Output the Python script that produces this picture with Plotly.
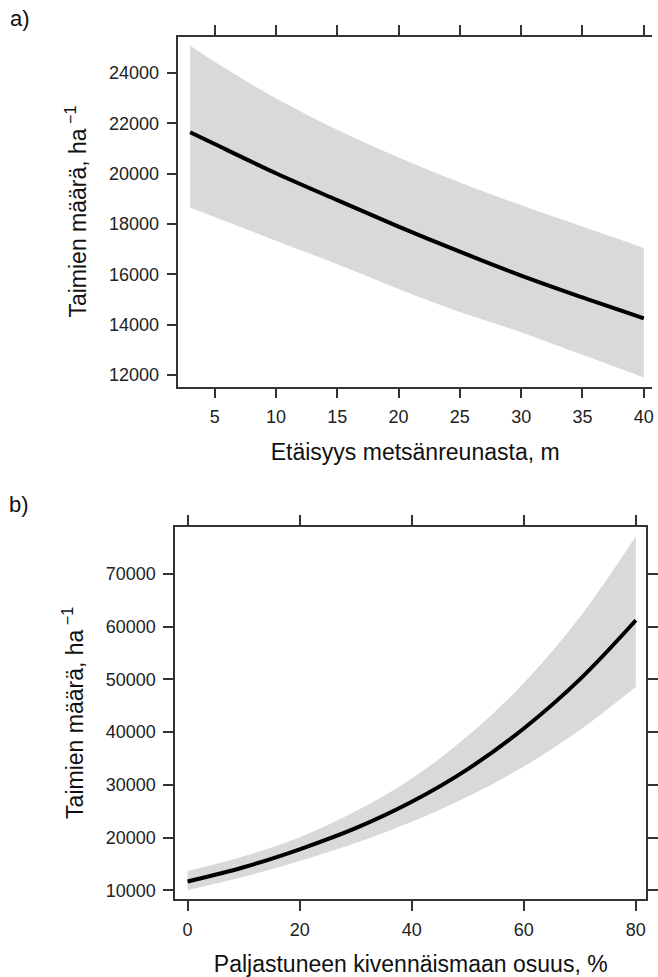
import plotly.graph_objects as go

# Panel a: distance from forest edge (m)
dist_m = [3, 5, 10, 15, 20, 25, 30, 35, 40]
dist_fit = [21650, 21180, 20020, 18950, 17900, 16900, 15950, 15080, 14250]
dist_upper = [25100, 24450, 23000, 21750, 20650, 19650, 18750, 17900, 17050]
dist_lower = [18650, 18280, 17340, 16400, 15420, 14500, 13700, 12800, 11900]

# Panel b: share of exposed mineral soil (%)
soil_pct = [0, 10, 20, 30, 40, 50, 60, 70, 80]
soil_fit = [11700, 14400, 17800, 21800, 26800, 33000, 40700, 50000, 61200]
soil_upper = [13700, 16500, 20100, 25000, 31200, 39300, 49300, 61800, 77100]
soil_lower = [10100, 12600, 15600, 19000, 23000, 27800, 33500, 40400, 48600]

a_xticks = [5, 10, 15, 20, 25, 30, 35, 40]
a_yticks = [12000, 14000, 16000, 18000, 20000, 22000, 24000]
b_xticks = [0, 20, 40, 60, 80]
b_yticks = [10000, 20000, 30000, 40000, 50000, 60000, 70000]

W, H = 658, 977
FONT = "Liberation Sans, Arial, sans-serif"
BAND = "#d9d9d9"
AXC = "#333333"

fig = go.Figure()

def add_panel(x, fit, up, lo, xa, ya):
    fig.add_trace(go.Scatter(
        x=x, y=lo, mode="lines", line=dict(width=0, color=BAND, shape="spline"),
        hoverinfo="skip", showlegend=False, xaxis=xa, yaxis=ya))
    fig.add_trace(go.Scatter(
        x=x, y=up, mode="lines", fill="tonexty", fillcolor=BAND,
        line=dict(width=0, color=BAND, shape="spline"),
        hoverinfo="skip", showlegend=False, xaxis=xa, yaxis=ya))
    fig.add_trace(go.Scatter(
        x=x, y=fit, mode="lines", line=dict(color="black", width=4, shape="spline"),
        showlegend=False, xaxis=xa, yaxis=ya))

add_panel(dist_m, dist_fit, dist_upper, dist_lower, "x", "y")
add_panel(soil_pct, soil_fit, soil_upper, soil_lower, "x2", "y2")

tickfont = dict(family=FONT, size=18, color="#222222")
titlefont = dict(family=FONT, size=23, color="#111111")
common = dict(showgrid=False, zeroline=False, showline=True, linecolor=AXC, linewidth=1.5,
              ticks="outside", ticklen=10, tickwidth=1.5, tickcolor=AXC, tickfont=tickfont,
              tickformat="d")

yl = "Taimien määrä, ha<sup> −1</sup>"

fig.update_layout(
    width=W, height=H, margin=dict(l=0, r=0, t=0, b=0),
    paper_bgcolor="white", plot_bgcolor="white",
    font=dict(family=FONT),
    xaxis=dict(domain=[180 / W, 1.0], range=[2.04, 40.67], tickvals=a_xticks,
               mirror="ticks", anchor="y", ticklabelstandoff=3,
               title=dict(text="Etäisyys metsänreunasta, m", font=titlefont, standoff=18),
               **common),
    yaxis=dict(domain=[1 - 387.3 / H, 1 - 36.7 / H], range=[11540, 25452], tickvals=a_yticks,
               anchor="x", mirror=False, ticklabelstandoff=4,
               title=dict(text=yl, font=titlefont, standoff=16),
               **common),
    xaxis2=dict(domain=[176.7 / W, 652.3 / W], range=[-2.23, 81.87], tickvals=b_xticks,
                mirror="ticks", anchor="y2", ticklabelstandoff=3,
                title=dict(text="Paljastuneen kivennäismaan osuus, %", font=titlefont, standoff=18),
                **common),
    yaxis2=dict(domain=[1 - 901 / H, 1 - 527.7 / H], range=[8355, 78940], tickvals=b_yticks,
                anchor="x2", mirror="ticks", ticklabelstandoff=4,
                title=dict(text=yl, font=titlefont, standoff=16),
                **common),
    annotations=[
        dict(text="a)", x=8 / W, y=1 - 19 / H, xref="paper", yref="paper", xanchor="left",
             yanchor="middle", showarrow=False, font=dict(family=FONT, size=22, color="#111111")),
        dict(text="b)", x=7 / W, y=1 - 506 / H, xref="paper", yref="paper", xanchor="left",
             yanchor="middle", showarrow=False, font=dict(family=FONT, size=22, color="#111111")),
    ],
)

fig.write_html("out.html")
